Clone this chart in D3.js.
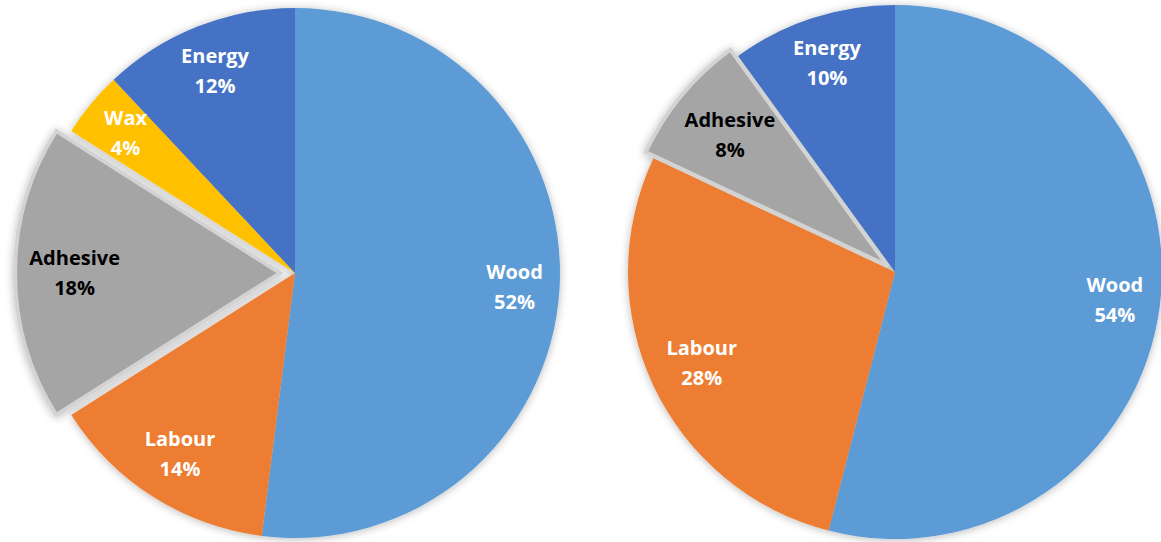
<!DOCTYPE html>
<html>
<head>
<meta charset="utf-8">
<script src="https://cdn.jsdelivr.net/npm/d3@7"></script>
<style>
  html, body { margin: 0; padding: 0; background: #fff; }
  svg { display: block; }
</style>
</head>
<body>
<svg id="chart" width="1161" height="542"></svg>
<script>
// Cost breakdown, two product variants
const leftCategories = ["Wood", "Labour", "Adhesive", "Wax", "Energy"];
const leftValues = [52, 14, 18, 4, 12];

const rightCategories = ["Wood", "Labour", "Adhesive", "Energy"];
const rightValues = [54, 28, 8, 10];

const colors = {
  Wood: "#5B9BD5",
  Labour: "#ED7D31",
  Adhesive: "#A5A5A5",
  Wax: "#FFC000",
  Energy: "#4472C4"
};
const darkLabel = new Set(["Adhesive"]);
const explodedCategory = "Adhesive";

const svg = d3.select("#chart");

const defs = svg.append("defs");
const shadow = defs.append("filter")
  .attr("id", "soft-shadow")
  .attr("x", "-20%").attr("y", "-20%")
  .attr("width", "140%").attr("height", "140%");
shadow.append("feDropShadow")
  .attr("dx", 0).attr("dy", 1)
  .attr("stdDeviation", 4)
  .attr("flood-color", "#000")
  .attr("flood-opacity", 0.28);

const FONT = "'Open Sans', Lato, sans-serif";
const FONT_SIZE = 20;
const LINE_GAP = 30;

function drawPie(categories, values, cx, cy, radius, explode) {
  const data = categories.map((c, i) => ({ name: c, value: values[i] }));
  const pie = d3.pie().sort(null).value(d => d.value);
  const arcs = pie(data);
  const arc = d3.arc().innerRadius(0).outerRadius(radius);

  const g = svg.append("g").attr("transform", `translate(${cx},${cy})`);
  const slices = g.append("g").attr("filter", "url(#soft-shadow)");

  function offset(d) {
    if (d.data.name !== explodedCategory) return [0, 0];
    const mid = (d.startAngle + d.endAngle) / 2;
    return [Math.sin(mid) * explode, -Math.cos(mid) * explode];
  }

  slices.selectAll("path")
    .data(arcs)
    .join("path")
    .attr("d", arc)
    .attr("transform", d => `translate(${offset(d)})`)
    .attr("fill", d => colors[d.data.name])
    .attr("stroke", d => d.data.name === explodedCategory ? "#D3D3D3" : "none")
    .attr("stroke-width", d => d.data.name === explodedCategory ? 4 : 0)
    .attr("stroke-linejoin", "miter");

  const labels = g.append("g")
    .selectAll("text")
    .data(arcs)
    .join("text")
    .attr("text-anchor", "middle")
    .attr("font-family", FONT)
    .attr("font-weight", "bold")
    .attr("font-size", FONT_SIZE)
    .attr("fill", d => darkLabel.has(d.data.name) ? "#000" : "#fff");

  labels.append("tspan")
    .attr("x", 0).attr("y", -LINE_GAP / 2 + 7)
    .text(d => d.data.name);
  labels.append("tspan")
    .attr("x", 0).attr("y", LINE_GAP / 2 + 7)
    .text(d => d.data.value + "%");

  // Place each label along the slice bisector, pulled inward until its box
  // sits comfortably inside the rim.
  labels.each(function (d) {
    const w = Math.max(...Array.from(this.querySelectorAll("tspan"), t => t.getComputedTextLength()));
    const top = -LINE_GAP / 2 - 8, bottom = LINE_GAP / 2 + 7;
    const mid = (d.startAngle + d.endAngle) / 2;
    const limit = radius * 0.955;
    let k = 0.83, x, y;
    for (; k > 0.4; k -= 0.005) {
      x = Math.sin(mid) * radius * k;
      y = -Math.cos(mid) * radius * k;
      const far = Math.max(
        Math.hypot(x - w / 2, y + top), Math.hypot(x + w / 2, y + top),
        Math.hypot(x - w / 2, y + bottom), Math.hypot(x + w / 2, y + bottom));
      if (far <= limit) break;
    }
    const [ox, oy] = offset(d);
    d3.select(this).attr("transform", `translate(${x + ox},${y + oy})`);
  });
}

drawPie(leftCategories, leftValues, 295, 273, 265, 15);
drawPie(rightCategories, rightValues, 895, 272, 267, 10);
</script>
</body>
</html>
